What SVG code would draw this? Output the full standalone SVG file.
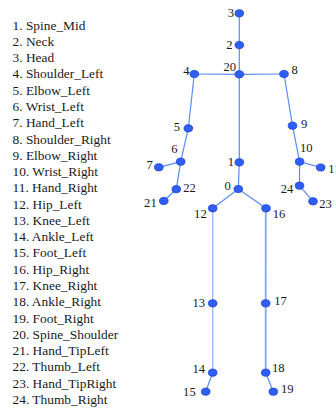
<svg xmlns="http://www.w3.org/2000/svg" width="336" height="410" viewBox="0 0 336 410">
<style>
.leg{font-family:'Liberation Serif','DejaVu Serif',serif;font-size:13.4px;fill:#1a1a1a}
.lb{font-family:'Liberation Serif','DejaVu Serif',serif;font-size:12.6px;fill:#1a1a1a}
.e{stroke:#5a8cf0;stroke-width:1.2;fill:none}
.el{stroke:#8fb0f5;stroke-width:1.2;fill:none}
.er{stroke:#8aaaf5;stroke-width:1.9;fill:none}
.n{fill:#2f5ef5;stroke:#1c3fd6;stroke-width:0.8}
.r{text-anchor:end}
</style>
<rect width="336" height="410" fill="#ffffff"/>
<g id="legend" class="leg" font-family="Liberation Serif, DejaVu Serif, serif">
<text x="12.5" y="29.5">1. Spine_Mid</text>
<text x="12.5" y="45.8">2. Neck</text>
<text x="12.5" y="62.1">3. Head</text>
<text x="12.5" y="78.3">4. Shoulder_Left</text>
<text x="12.5" y="94.6">5. Elbow_Left</text>
<text x="12.5" y="110.9">6. Wrist_Left</text>
<text x="12.5" y="127.2">7. Hand_Left</text>
<text x="12.5" y="143.5">8. Shoulder_Right</text>
<text x="12.5" y="159.7">9. Elbow_Right</text>
<text x="12.5" y="176.0">10. Wrist_Right</text>
<text x="12.5" y="192.3">11. Hand_Right</text>
<text x="12.5" y="208.6">12. Hip_Left</text>
<text x="12.5" y="224.9">13. Knee_Left</text>
<text x="12.5" y="241.1">14. Ankle_Left</text>
<text x="12.5" y="257.4">15. Foot_Left</text>
<text x="12.5" y="273.7">16. Hip_Right</text>
<text x="12.5" y="290.0">17. Knee_Right</text>
<text x="12.5" y="306.3">18. Ankle_Right</text>
<text x="12.5" y="322.5">19. Foot_Right</text>
<text x="12.5" y="338.8">20. Spine_Shoulder</text>
<text x="12.5" y="355.1">21. Hand_TipLeft</text>
<text x="12.5" y="371.4">22. Thumb_Left</text>
<text x="12.5" y="387.7">23. Hand_TipRight</text>
<text x="12.5" y="403.9">24. Thumb_Right</text>
</g>
<g id="connectors">
<line class="e" x1="239.3" y1="13.3" x2="239.3" y2="45"/>
<line class="e" x1="239.3" y1="45" x2="239.3" y2="74.3"/>
<line class="e" x1="239.3" y1="74.3" x2="194.3" y2="74"/>
<line class="e" x1="239.3" y1="74.3" x2="284" y2="74"/>
<line class="e" x1="239.3" y1="74.3" x2="239.3" y2="162.3"/>
<line class="e" x1="239.3" y1="162.3" x2="238.3" y2="189"/>
<line class="e" x1="238.3" y1="189" x2="212.7" y2="208.3"/>
<line class="e" x1="238.3" y1="189" x2="266" y2="208.3"/>
<line class="e" x1="194.3" y1="74" x2="188.3" y2="128.3"/>
<line class="e" x1="188.3" y1="128.3" x2="180.7" y2="161.7"/>
<line class="e" x1="180.7" y1="161.7" x2="158.8" y2="167.3"/>
<line class="e" x1="180.7" y1="161.7" x2="176.3" y2="189.2"/>
<line class="e" x1="176.3" y1="189.2" x2="163.8" y2="201"/>
<line class="e" x1="284" y1="74" x2="292.5" y2="125.7"/>
<line class="e" x1="292.5" y1="125.7" x2="299.6" y2="161.7"/>
<line class="e" x1="299.6" y1="161.7" x2="320.7" y2="167.5"/>
<line class="e" x1="299.6" y1="161.7" x2="299.5" y2="185.7"/>
<line class="e" x1="299.5" y1="185.7" x2="313" y2="201.3"/>
<line class="el" x1="212.7" y1="208.3" x2="212.7" y2="303.3"/>
<line class="el" x1="212.7" y1="303.3" x2="212.7" y2="372.7"/>
<line class="e" x1="212.7" y1="372.7" x2="205.7" y2="391.7"/>
<line class="er" x1="265.8" y1="208.3" x2="265.7" y2="303.3"/>
<line class="er" x1="265.7" y1="303.3" x2="265.7" y2="372.7"/>
<line class="e" x1="265.7" y1="372.7" x2="273.3" y2="391.7"/>
</g>
<g id="node-3"><ellipse class="n" cx="239.3" cy="13.3" rx="4.3" ry="3.6"/><text class="lb r" x="234" y="17.3">3</text></g>
<g id="node-2"><ellipse class="n" cx="239.3" cy="45" rx="4.3" ry="3.6"/><text class="lb r" x="232.5" y="48.5">2</text></g>
<g id="node-20"><ellipse class="n" cx="239.3" cy="74.3" rx="4.3" ry="3.6"/><text class="lb r" x="236" y="70.7">20</text></g>
<g id="node-4"><ellipse class="n" cx="194.3" cy="74" rx="4.3" ry="3.6"/><text class="lb r" x="189.5" y="75">4</text></g>
<g id="node-8"><ellipse class="n" cx="284" cy="74" rx="4.3" ry="3.6"/><text class="lb" x="291.5" y="74">8</text></g>
<g id="node-5"><ellipse class="n" cx="188.3" cy="128.3" rx="4.3" ry="3.6"/><text class="lb r" x="180" y="130.7">5</text></g>
<g id="node-9"><ellipse class="n" cx="292.5" cy="125.7" rx="4.3" ry="3.6"/><text class="lb" x="301" y="128.2">9</text></g>
<g id="node-6"><ellipse class="n" cx="180.7" cy="161.7" rx="4.3" ry="3.6"/><text class="lb r" x="177.5" y="152.7">6</text></g>
<g id="node-10"><ellipse class="n" cx="299.6" cy="161.7" rx="4.3" ry="3.6"/><text class="lb" x="300" y="152">10</text></g>
<g id="node-11"><ellipse class="n" cx="320.7" cy="167.5" rx="4.3" ry="3.6"/><text class="lb" x="328.3" y="172.7">11</text></g>
<g id="node-7"><ellipse class="n" cx="158.8" cy="167.3" rx="4.3" ry="3.6"/><text class="lb r" x="152.7" y="169.3">7</text></g>
<g id="node-1"><ellipse class="n" cx="239.3" cy="162.3" rx="4.3" ry="3.6"/><text class="lb r" x="234" y="166">1</text></g>
<g id="node-0"><ellipse class="n" cx="238.3" cy="189" rx="4.3" ry="3.6"/><text class="lb r" x="230.7" y="190">0</text></g>
<g id="node-22"><ellipse class="n" cx="176.3" cy="189.2" rx="4.3" ry="3.6"/><text class="lb" x="183.3" y="191.7">22</text></g>
<g id="node-21"><ellipse class="n" cx="163.8" cy="201" rx="4.3" ry="3.6"/><text class="lb r" x="156.7" y="206.7">21</text></g>
<g id="node-24"><ellipse class="n" cx="299.5" cy="185.7" rx="4.3" ry="3.6"/><text class="lb r" x="293.3" y="192.7">24</text></g>
<g id="node-23"><ellipse class="n" cx="313" cy="201.3" rx="4.3" ry="3.6"/><text class="lb" x="319.3" y="208.3">23</text></g>
<g id="node-12"><ellipse class="n" cx="212.7" cy="208.3" rx="4.3" ry="3.6"/><text class="lb r" x="206.7" y="218.3">12</text></g>
<g id="node-16"><ellipse class="n" cx="266" cy="208.3" rx="4.3" ry="3.6"/><text class="lb" x="272.7" y="218.3">16</text></g>
<g id="node-13"><ellipse class="n" cx="212.7" cy="303.3" rx="4.3" ry="3.6"/><text class="lb r" x="205" y="306.7">13</text></g>
<g id="node-17"><ellipse class="n" cx="265.7" cy="303.3" rx="4.3" ry="3.6"/><text class="lb" x="274.3" y="305">17</text></g>
<g id="node-14"><ellipse class="n" cx="212.7" cy="372.7" rx="4.3" ry="3.6"/><text class="lb r" x="205" y="373.3">14</text></g>
<g id="node-18"><ellipse class="n" cx="265.7" cy="372.7" rx="4.3" ry="3.6"/><text class="lb" x="272" y="371.7">18</text></g>
<g id="node-15"><ellipse class="n" cx="205.7" cy="391.7" rx="4.3" ry="3.6"/><text class="lb r" x="195.7" y="396">15</text></g>
<g id="node-19"><ellipse class="n" cx="273.3" cy="391.7" rx="4.3" ry="3.6"/><text class="lb" x="281" y="392.7">19</text></g>
</svg>
